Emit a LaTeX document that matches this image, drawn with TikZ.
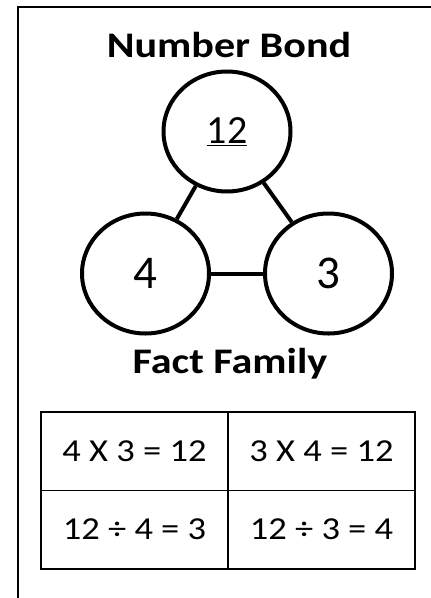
\documentclass[tikz,border=0pt]{standalone}
\usepackage{fontspec}
\setmainfont{Carlito}
\usetikzlibrary{shapes.geometric}
\newcommand{\wide}[2]{\scalebox{#1}[1]{#2}}
\begin{document}
\begin{tikzpicture}[x=1pt,y=-1pt,
  bond/.style={draw,line width=4pt,ellipse,minimum width=127pt,minimum height=120pt,inner sep=0pt},
  link/.style={line width=4pt},
  cell/.style={draw,line width=1.5pt,minimum width=187pt,minimum height=78.5pt,inner sep=0pt,font=\fontsize{32}{36}\selectfont},
  title/.style={font=\fontsize{36}{40}\selectfont\bfseries}]
\useasboundingbox (0,0) rectangle (431,598);
\draw[line width=2pt] (18,620) -- (18,7) -- (450,7);
\node[title] (t1) at (229,45) {\wide{1.17}{Number Bond}};
\node[bond] (top) at (227,131.5) {\fontsize{40}{46}\selectfont\underline{12}};
\node[bond] (left) at (145.5,273.5) {\fontsize{47}{52}\selectfont 4};
\node[bond] (right) at (328.5,273.5) {\fontsize{47}{52}\selectfont 3};
\draw[link] (top) -- (left);
\draw[link] (top) -- (right);
\draw[link] (left) -- (right);
\node[title] (t2) at (230,364) {\wide{1.17}{Fact Family}};
\node[cell] (c11) at (134.5,451) {\wide{1.14}{4 X 3 = 12}};
\node[cell] (c12) at (321.5,451) {\wide{1.14}{3 X 4 = 12}};
\node[cell] (c21) at (134.5,529.5) {\wide{1.14}{12 ÷ 4 = 3}};
\node[cell] (c22) at (321.5,529.5) {\wide{1.14}{12 ÷ 3 = 4}};
\end{tikzpicture}
\end{document}
